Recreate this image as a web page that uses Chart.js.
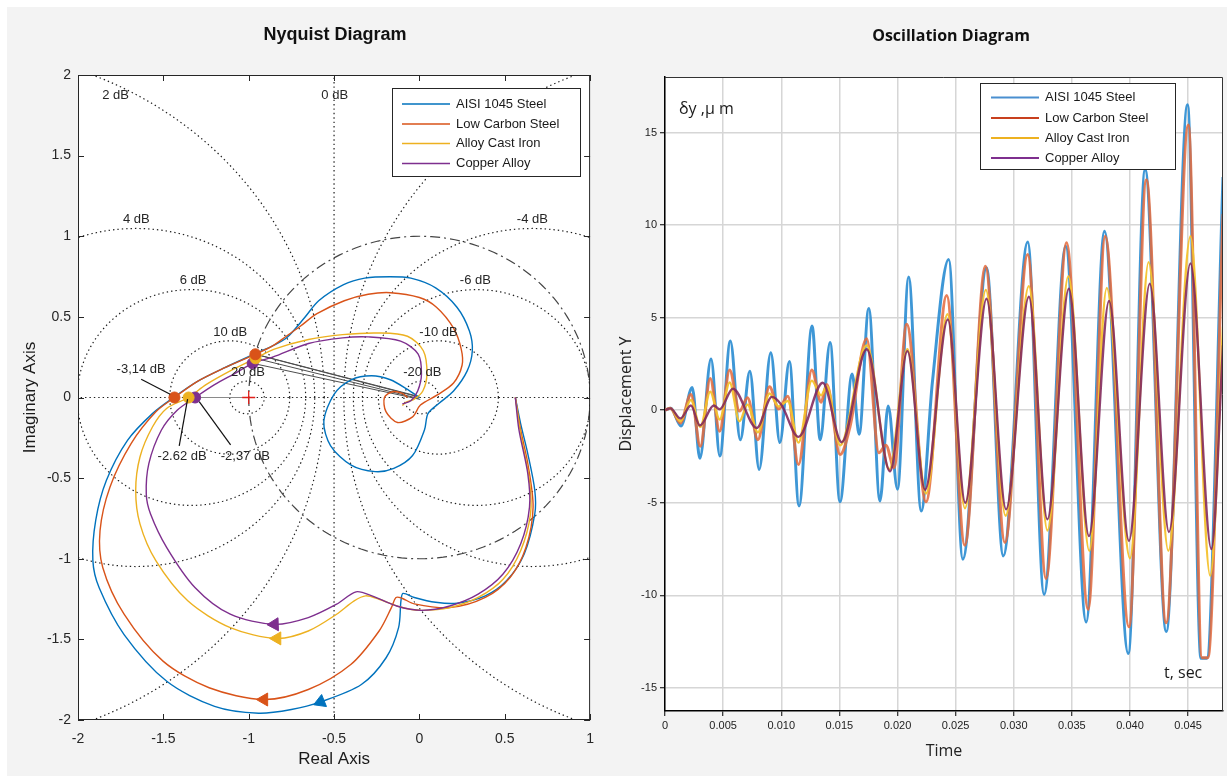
<!DOCTYPE html>
<html>
<head>
<meta charset="utf-8">
<script src="https://cdn.jsdelivr.net/npm/chart.js@4.4.0/dist/chart.umd.min.js"></script>
<style>
  html, body { margin: 0; padding: 0; background: #fff; }
  body { width: 1227px; height: 776px; position: relative; overflow: hidden; }
  #panel { position: absolute; left: 7px; top: 7px; right: 0; bottom: 0; background: #f3f3f3; }
  canvas { position: absolute; top: 0; }
  #nyquist { left: 0; }
  #oscillation { left: 605px; }
</style>
</head>
<body>
<div id="panel"></div>
<canvas id="nyquist" width="605" height="776"></canvas>
<canvas id="oscillation" width="622" height="776"></canvas>
<script>
const MATERIALS = ['AISI 1045 Steel', 'Low Carbon Steel', 'Alloy Cast Iron', 'Copper Alloy'];
const NYQ_COLORS = ['#0072BD', '#D95319', '#EDB120', '#7E2F8E'];
const OSC_COLORS = ['rgba(52,145,212,0.95)', 'rgba(228,106,60,0.85)', 'rgba(244,194,46,0.95)', 'rgba(128,38,92,0.88)'];
const OSC_LEGEND_COLORS = ['#4a8fd0', '#c8401e', '#EDB120', '#7E2F8E'];

// Nyquist curves, [Re, Im]
const nyqSteel = [
  [0.562, 0], [0.593, -0.162], [0.635, -0.349], [0.676, -0.577], [0.676, -0.722], [0.614, -0.97],
  [0.51, -1.137], [0.386, -1.23], [0.22, -1.276], [0.095, -1.27], [-0.03, -1.24], [-0.096, -1.215],
  [-0.108, -1.26], [-0.122, -1.427], [-0.195, -1.614], [-0.34, -1.78], [-0.579, -1.888], [-0.75, -1.935],
  [-0.942, -1.958], [-1.2, -1.915], [-1.48, -1.76], [-1.73, -1.47], [-1.876, -1.18], [-1.913, -1.01],
  [-1.896, -0.76], [-1.834, -0.515], [-1.71, -0.266], [-1.564, -0.1], [-1.44, 0], [-1.3, 0.1],
  [-1.15, 0.18], [-0.965, 0.27], [-0.86, 0.32], [-0.776, 0.372], [-0.672, 0.496], [-0.59, 0.6],
  [-0.444, 0.7], [-0.32, 0.74], [-0.174, 0.749], [-0.05, 0.74], [0.095, 0.68], [0.22, 0.56],
  [0.293, 0.413], [0.31, 0.29], [0.28, 0.165], [0.2, 0.04], [0.11, -0.04], [0.05, -0.1],
  [0.03, -0.2], [-0.04, -0.36], [-0.15, -0.44], [-0.26, -0.46], [-0.4, -0.42], [-0.52, -0.3],
  [-0.56, -0.15], [-0.5, 0.02], [-0.4, 0.11], [-0.28, 0.135], [-0.17, 0.11], [-0.07, 0.05], [0, 0]
];
const nyqLowCarbon = [
  [0.562, 0], [0.593, -0.2], [0.635, -0.41], [0.666, -0.68], [0.624, -0.93], [0.531, -1.116],
  [0.386, -1.24], [0.178, -1.303], [-0.03, -1.28], [-0.102, -1.245], [-0.137, -1.24], [-0.164, -1.303],
  [-0.236, -1.448], [-0.402, -1.656], [-0.651, -1.811], [-0.911, -1.873], [-1.232, -1.8], [-1.502, -1.635],
  [-1.73, -1.344], [-1.855, -1.054], [-1.871, -0.826], [-1.813, -0.556], [-1.689, -0.286], [-1.544, -0.089],
  [-1.435, 0], [-1.3, 0.1], [-1.15, 0.18], [-0.961, 0.268], [-0.86, 0.32], [-0.78, 0.38],
  [-0.7, 0.44], [-0.6, 0.52], [-0.44, 0.6], [-0.3, 0.64], [-0.17, 0.65], [0, 0.62],
  [0.1, 0.56], [0.2, 0.43], [0.245, 0.3], [0.25, 0.2], [0.2, 0.09], [0.105, 0.016],
  [0.006, -0.047], [-0.04, -0.12], [-0.128, -0.155], [-0.196, -0.088], [-0.205, 0], [-0.157, 0.036],
  [-0.1, 0.025], [-0.07, 0]
];
const nyqCastIron = [
  [0.562, 0], [0.593, -0.224], [0.645, -0.515], [0.651, -0.722], [0.593, -0.95], [0.49, -1.127],
  [0.344, -1.24], [0.178, -1.303], [0.012, -1.32], [-0.112, -1.299], [-0.236, -1.251], [-0.315, -1.23],
  [-0.382, -1.261], [-0.485, -1.344], [-0.651, -1.448], [-0.834, -1.494], [-1.108, -1.427], [-1.357, -1.261],
  [-1.544, -1.012], [-1.637, -0.784], [-1.662, -0.577], [-1.637, -0.369], [-1.564, -0.183], [-1.481, -0.068],
  [-1.352, 0], [-1.25, 0.08], [-1.1, 0.17], [-0.96, 0.243], [-0.85, 0.3], [-0.65, 0.36],
  [-0.45, 0.39], [-0.24, 0.4], [-0.07, 0.38], [0.023, 0.29], [0.044, 0.145], [0.02, 0.04],
  [-0.03, -0.01], [-0.08, -0.03], [-0.1, -0.05]
];
const nyqCopper = [
  [0.562, 0], [0.583, -0.2], [0.635, -0.473], [0.645, -0.68], [0.593, -0.909], [0.49, -1.095],
  [0.344, -1.22], [0.178, -1.293], [0.012, -1.32], [-0.133, -1.293], [-0.278, -1.23], [-0.371, -1.205],
  [-0.485, -1.282], [-0.651, -1.365], [-0.849, -1.407], [-1.108, -1.344], [-1.315, -1.178], [-1.481, -0.929],
  [-1.575, -0.722], [-1.6, -0.6], [-1.585, -0.41], [-1.512, -0.203], [-1.419, -0.079], [-1.314, 0],
  [-1.2, 0.08], [-1.08, 0.15], [-0.977, 0.212], [-0.86, 0.25], [-0.65, 0.335], [-0.45, 0.37],
  [-0.3, 0.376], [-0.11, 0.35], [-0.008, 0.27], [0.012, 0.145], [-0.01, 0.04], [-0.05, -0.02], [-0.1, -0.04]
];
const nyqCurves = [nyqSteel, nyqLowCarbon, nyqCastIron, nyqCopper];

// margin markers (steel marker sits under the low carbon one and is not drawn)
const gainCross = [null, [-1.435, 0], [-1.352, 0], [-1.314, 0]];
const phaseCross = [[-0.965, 0.27], [-0.961, 0.268], [-0.96, 0.243], [-0.977, 0.212]];
const tipAnchor = [[-0.01, 0.008], [0, 0.002], [-0.005, -0.006], [0.005, -0.012]];
const arrowPts = [[-0.579, -1.888], [-0.911, -1.873], [-0.834, -1.494], [-0.849, -1.407]];
const arrowAngle = [-112, -90, -90, -92];

const mCircleDb = [-20, -10, -6, -4, -2, 0, 2, 4, 6, 10, 20];
const gridLabels = [
  ['2 dB', -1.78, 1.872], ['0 dB', -0.496, 1.872], ['4 dB', -1.658, 1.102], ['-4 dB', 0.662, 1.102],
  ['6 dB', -1.326, 0.724], ['-6 dB', 0.328, 0.724], ['10 dB', -1.108, 0.403], ['-10 dB', 0.112, 0.403],
  ['20 dB', -1.004, 0.155], ['-20 dB', 0.017, 0.155]
];
const marginLabels = [['-3,14 dB', -1.63, 0.175], ['-2.62 dB', -1.39, -0.363], ['-2,37 dB', -1.02, -0.363]];
const marginLeaders = [
  [[-1.63, 0.113], [-1.46, 0.02]],
  [[-1.407, -0.3], [-1.358, -0.01]],
  [[-1.106, -0.294], [-1.29, -0.026]]
];

const nyqTicksX = [-2, -1.5, -1, -0.5, 0, 0.5, 1];
const nyqTicksY = [-2, -1.5, -1, -0.5, 0, 0.5, 1, 1.5, 2];

// Oscillation, [time ms, displacement um]
const oscSteel = [
  [0, 0], [0.5, 0.1], [1.38, -0.85], [2.34, 1.23], [3.0, -2.6], [3.96, 2.76], [4.72, -2.47], [5.62, 3.74],
  [6.48, -1.6], [7.3, 2.1], [8.1, -3.2], [9.1, 3.1], [9.88, -1.75], [10.7, 2.63], [11.53, -5.17],
  [12.65, 4.55], [13.35, -1.6], [14.2, 3.66], [15.05, -4.95], [16.1, 1.95], [16.7, -1.3], [17.53, 5.5],
  [18.49, -4.9], [19.2, 0.23], [20.0, -4.27], [20.96, 7.2], [22.04, -5.44], [23.0, 1.5], [24.4, 8.14],
  [25.62, -8.05], [27.66, 7.7], [29.1, -7.87], [31.2, 9.08], [32.61, -9.95], [34.47, 8.86], [36.23, -11.44],
  [37.8, 9.67], [39.85, -13.14], [41.3, 12.99], [43.12, -11.96], [44.95, 16.5], [46.1, -13.4],
  [46.6, -13.4], [48, 12.6]
];
const oscLowCarbon = [
  [0, 0], [0.46, 0.1], [1.32, -0.69], [2.23, 0.85], [3.04, -1.95], [3.89, 1.71], [4.7, -1.14], [5.56, 2.17],
  [6.41, -0.05], [7.1, 0.67], [7.99, -1.59], [8.99, 1.26], [9.77, 0.07], [10.57, 0.76], [11.48, -2.94],
  [12.63, 2.17], [13.43, 0.43], [13.92, 1.39], [15.06, -2.4], [15.92, -0.87], [17.35, 3.86], [18.4, -2.3],
  [19.0, -1.9], [19.7, -3.1], [20.79, 4.64], [22.45, -4.95], [24.23, 6.2], [25.79, -7.3], [27.56, 7.78],
  [29.24, -7.15], [31.2, 8.41], [32.78, -9.1], [34.54, 9.04], [36.4, -10.76], [37.87, 9.4], [39.91, -11.7],
  [41.41, 12.45], [43.11, -11.48], [45.02, 15.41], [46.2, -13.37], [46.7, -13.37], [48, 10.6]
];
const oscCastIron = [
  [0, 0], [0.46, 0.1], [1.32, -0.6], [2.23, 0.55], [3.04, -0.9], [3.89, 1.0], [4.7, -0.5], [5.56, 1.5],
  [6.41, -0.6], [7.1, 0.3], [7.99, -1.2], [8.99, 0.9], [9.77, 0.2], [10.57, 0.5], [11.48, -1.75],
  [12.63, 1.6], [13.43, 0.8], [13.92, 1.3], [15.06, -1.9], [17.35, 3.5], [19.3, -3.2], [20.85, 3.3],
  [22.45, -4.5], [24.3, 5.18], [25.8, -5.3], [27.6, 6.5], [29.3, -5.7], [31.3, 6.7], [32.9, -6.5],
  [34.7, 7.24], [36.5, -7.6], [38.0, 6.6], [40.0, -8.0], [41.6, 8.0], [43.3, -7.6], [45.2, 9.4],
  [46.9, -8.95], [48, 4.5]
];
const oscCopper = [
  [0, 0], [0.46, 0.1], [1.32, -0.45], [2.23, 0.25], [3.0, -0.83], [4.2, 0.25], [4.7, 0.05], [5.84, 1.16],
  [7.9, -0.96], [9.19, 0.72], [10.0, 0.3], [11.48, -1.44], [13.57, 1.48], [15.2, -1.73], [17.35, 3.29],
  [19.36, -3.3], [20.85, 3.19], [22.37, -4.3], [24.33, 4.9], [25.83, -5.0], [27.66, 6.02], [29.34, -5.35],
  [31.3, 6.13], [32.89, -5.9], [34.74, 6.56], [36.47, -6.8], [38.2, 5.9], [39.91, -7.06], [41.7, 6.83],
  [43.35, -6.58], [45.2, 7.93], [47.0, -7.5], [48, 3.5]
];
const oscSeries = [oscSteel, oscLowCarbon, oscCastIron, oscCopper];

const timeTicks = [0, 0.005, 0.010, 0.015, 0.020, 0.025, 0.030, 0.035, 0.040, 0.045];
const timeTickLabels = ['0', '0.005', '0.010', '0.015', '0.020', '0.025', '0.030', '0.035', '0.040', '0.045'];
const dispTicks = [-15, -10, -5, 0, 5, 10, 15];

const SANS = "'Liberation Sans', Arial, sans-serif";
const OPEN = "'Open Sans', 'Liberation Sans', sans-serif";
Chart.defaults.font.family = SANS;
Chart.defaults.color = '#262626';

function toXY(points) {
    return points.filter(p => p).map(([x, y]) => ({ x, y }));
}

function pathDataset(points, color, width, extra) {
    return Object.assign({
        data: toXY(points), showLine: true, borderColor: color, backgroundColor: color,
        borderWidth: width, pointRadius: 0, pointHoverRadius: 0, tension: 0, order: 10
    }, extra || {});
}

// closed-loop constant magnitude contour (M-circle) for a dB level
function mCircle(db) {
    if (db === 0) return [[-0.5, -2.5], [-0.5, 2.5]];
    const m2 = Math.pow(10, db / 10);
    const c = -m2 / (m2 - 1), r = Math.abs(Math.sqrt(m2) / (m2 - 1));
    const pts = [];
    for (let a = 0; a <= 360; a += 2) {
        pts.push([c + r * Math.cos(a * Math.PI / 180), r * Math.sin(a * Math.PI / 180)]);
    }
    return pts;
}

function unitCircle() {
    const pts = [];
    for (let a = 0; a <= 360; a += 2) pts.push([Math.cos(a * Math.PI / 180), Math.sin(a * Math.PI / 180)]);
    return pts;
}

function drawLegend(ctx, box, colors, lineWidth) {
    ctx.fillStyle = '#fff';
    ctx.fillRect(box.left, box.top, box.width, box.height);
    ctx.strokeStyle = '#262626';
    ctx.lineWidth = 1;
    ctx.strokeRect(box.left + 0.5, box.top + 0.5, box.width, box.height);
    ctx.font = '13px ' + SANS;
    ctx.textAlign = 'left';
    ctx.textBaseline = 'middle';
    MATERIALS.forEach((name, i) => {
        const y = box.rows[i];
        ctx.strokeStyle = colors[i];
        ctx.lineWidth = lineWidth;
        ctx.beginPath();
        ctx.moveTo(box.lineFrom, y);
        ctx.lineTo(box.lineTo, y);
        ctx.stroke();
        ctx.fillStyle = '#1a1a1a';
        ctx.fillText(name, box.textX, y);
    });
}

const nyquistDecor = {
    id: 'nyquistDecor',
    beforeDraw(chart) {
        const { ctx, chartArea: a } = chart;
        ctx.save();
        ctx.fillStyle = '#fff';
        ctx.fillRect(a.left, a.top, a.right - a.left, a.bottom - a.top);
        ctx.restore();
    },
    afterDatasetsDraw(chart) {
        const { ctx, chartArea: a, scales: { x, y } } = chart;
        ctx.save();
        ctx.strokeStyle = '#262626';
        ctx.lineWidth = 1;
        ctx.strokeRect(a.left + 0.5, a.top + 0.5, a.right - a.left - 1, a.bottom - a.top - 1);
        ctx.beginPath();
        nyqTicksX.forEach(v => {
            const p = Math.round(x.getPixelForValue(v)) + 0.5;
            ctx.moveTo(p, a.top); ctx.lineTo(p, a.top + 6);
            ctx.moveTo(p, a.bottom); ctx.lineTo(p, a.bottom - 6);
        });
        nyqTicksY.forEach(v => {
            const p = Math.round(y.getPixelForValue(v)) + 0.5;
            ctx.moveTo(a.left, p); ctx.lineTo(a.left + 6, p);
            ctx.moveTo(a.right, p); ctx.lineTo(a.right - 6, p);
        });
        ctx.stroke();

        ctx.fillStyle = '#262626';
        ctx.textAlign = 'center';
        ctx.textBaseline = 'middle';
        ctx.font = '13px ' + SANS;
        gridLabels.concat(marginLabels).forEach(([t, vx, vy]) => {
            ctx.fillText(t, x.getPixelForValue(vx), y.getPixelForValue(vy));
        });

        drawLegend(ctx, { left: 392, top: 88, width: 188, height: 88, rows: [104, 124, 143.5, 163.5],
            lineFrom: 402, lineTo: 450, textX: 456 }, NYQ_COLORS, 1.5);
        ctx.restore();
    },
    afterDraw(chart) {
        const { ctx } = chart;
        ctx.save();
        ctx.font = 'bold 18px ' + SANS;
        ctx.fillStyle = '#111';
        ctx.textAlign = 'center';
        ctx.textBaseline = 'middle';
        ctx.fillText('Nyquist Diagram', 335, 35);
        ctx.restore();
    }
};

const oscDecor = {
    id: 'oscDecor',
    beforeDraw(chart) {
        const { ctx, chartArea: a } = chart;
        ctx.save();
        ctx.fillStyle = '#fff';
        ctx.fillRect(a.left, a.top, a.right - a.left, a.bottom - a.top);
        ctx.restore();
    },
    afterDatasetsDraw(chart) {
        const { ctx, chartArea: a } = chart;
        ctx.save();
        ctx.strokeStyle = '#333';
        ctx.lineWidth = 1;
        ctx.beginPath();
        ctx.moveTo(a.left, a.top + 0.5); ctx.lineTo(a.right - 0.5, a.top + 0.5); ctx.lineTo(a.right - 0.5, a.bottom);
        ctx.stroke();

        ctx.fillStyle = '#1a1a1a';
        ctx.textBaseline = 'middle';
        ctx.textAlign = 'left';
        ctx.font = '16px ' + OPEN;
        ctx.fillText('\u03B4y ,\u03BC m', 74, 109);
        ctx.fillText('t, sec', 559, 673);

        drawLegend(ctx, { left: 375, top: 83, width: 195, height: 86, rows: [97.5, 118, 138, 158],
            lineFrom: 386, lineTo: 434, textX: 440 }, OSC_LEGEND_COLORS, 2);
        ctx.restore();
    },
    afterDraw(chart) {
        const { ctx } = chart;
        ctx.save();
        ctx.font = 'bold 16px ' + OPEN;
        ctx.fillStyle = '#111';
        ctx.textAlign = 'center';
        ctx.textBaseline = 'middle';
        ctx.fillText('Oscillation Diagram', 346, 36);
        ctx.restore();
    }
};

// ---- Nyquist chart ----
const nyqDatasets = [];
mCircleDb.forEach(db => {
    nyqDatasets.push(pathDataset(mCircle(db), '#1e1e1e', 1.2, { borderDash: [1.4, 3], order: 20 }));
});
nyqDatasets.push(pathDataset([[-2.5, 0], [1.5, 0]], '#1e1e1e', 1.2, { borderDash: [1.4, 3], order: 20 }));
nyqDatasets.push(pathDataset(unitCircle(), '#444', 1.2, { borderDash: [10, 4, 2, 4], order: 19 }));
phaseCross.forEach((p, i) => {
    nyqDatasets.push(pathDataset([p, tipAnchor[i]], '#4d4d4d', 1, { order: 15 }));
});
nyqDatasets.push(pathDataset([gainCross[3], [-1, 0]], '#8a8a8a', 1, { order: 15 }));
nyqCurves.forEach((c, i) => {
    nyqDatasets.push(pathDataset(c, NYQ_COLORS[i], 1.4, { tension: 0.3, order: 5 - i }));
});
marginLeaders.forEach(seg => {
    nyqDatasets.push(pathDataset(seg, '#111', 1.2, { order: 0 }));
});
NYQ_COLORS.forEach((col, i) => {
    if (i > 0) {
        nyqDatasets.push({
            data: toXY([gainCross[i], phaseCross[i]]), pointRadius: 5.5, pointBackgroundColor: col,
            pointBorderColor: col, pointHoverRadius: 5.5, showLine: false, order: 0
        });
    }
    nyqDatasets.push({
        data: toXY([arrowPts[i]]), pointStyle: 'triangle', pointRadius: 7.5, pointRotation: arrowAngle[i],
        pointBackgroundColor: col, pointBorderColor: col, pointHoverRadius: 7.5, showLine: false, order: 0
    });
});
nyqDatasets.push({
    data: toXY([[-1, 0]]), pointStyle: 'cross', pointRadius: 6.5, pointBorderColor: '#e0201b',
    pointBorderWidth: 1.3, showLine: false, order: 0
});

new Chart(document.getElementById('nyquist'), {
    type: 'scatter',
    data: { datasets: nyqDatasets },
    options: {
        responsive: false, animation: false, devicePixelRatio: 1,
        layout: { padding: { left: 0, top: 75, right: 11, bottom: 0 } },
        plugins: { legend: { display: false }, tooltip: { enabled: false } },
        events: [],
        scales: {
            x: {
                type: 'linear', min: -2, max: 1,
                afterBuildTicks: s => { s.ticks = nyqTicksX.map(v => ({ value: v })); },
                afterFit: s => { s.height = 56; },
                ticks: { font: { size: 14 }, color: '#262626', padding: 11, maxRotation: 0, autoSkip: false,
                    callback: v => String(v) },
                grid: { display: false, drawTicks: false },
                border: { display: false },
                title: { display: true, text: 'Real Axis', font: { size: 17 }, color: '#1a1a1a',
                    padding: { top: 0, bottom: 6 } }
            },
            y: {
                type: 'linear', min: -2, max: 2,
                afterBuildTicks: s => { s.ticks = nyqTicksY.map(v => ({ value: v })); },
                afterFit: s => { s.width = 78; },
                ticks: { font: { size: 14 }, color: '#262626', padding: 7, autoSkip: false,
                    callback: v => String(v) },
                grid: { display: false, drawTicks: false },
                border: { display: false },
                title: { display: true, text: 'Imaginary Axis', font: { size: 17 }, color: '#1a1a1a',
                    padding: { top: 20, bottom: 0 } }
            }
        }
    },
    plugins: [nyquistDecor]
});

// ---- Oscillation chart ----
const oscDatasets = oscSeries.map((s, i) => ({
    label: MATERIALS[i],
    data: s.map(([t, v]) => ({ x: t / 1000, y: v })),
    borderColor: OSC_COLORS[i],
    borderWidth: i < 2 ? 3 : 2.4,
    pointRadius: 0,
    cubicInterpolationMode: 'monotone',
    order: 4 - i
}));

new Chart(document.getElementById('oscillation'), {
    type: 'line',
    data: { datasets: oscDatasets },
    options: {
        responsive: false, animation: false, devicePixelRatio: 1,
        layout: { padding: { left: 0, top: 77, right: 4, bottom: 0 } },
        plugins: { legend: { display: false }, tooltip: { enabled: false } },
        events: [],
        scales: {
            x: {
                type: 'linear', min: 0, max: 0.048,
                afterBuildTicks: s => { s.ticks = timeTicks.map(v => ({ value: v })); },
                afterFit: s => { s.height = 65; },
                ticks: { font: { size: 11 }, color: '#222', padding: 3, maxRotation: 0, autoSkip: false,
                    callback: (v, i) => timeTickLabels[i] },
                grid: { color: '#d6d6d6', lineWidth: 1.5, tickColor: '#000', tickLength: 5, tickWidth: 1 },
                border: { color: '#000', width: 1.5 },
                title: { display: true, text: 'Time', font: { family: OPEN, size: 16 }, color: '#222',
                    padding: { top: 0, bottom: 15 } }
            },
            y: {
                type: 'linear', min: -16.25, max: 18,
                afterBuildTicks: s => { s.ticks = dispTicks.map(v => ({ value: v })); },
                afterFit: s => { s.width = 60; },
                ticks: { font: { size: 11 }, color: '#222', padding: 3, autoSkip: false },
                grid: { color: '#d6d6d6', lineWidth: 1.5, tickColor: '#000', tickLength: 5, tickWidth: 1 },
                border: { color: '#000', width: 1.5 },
                title: { display: true, text: 'Displacement Y', font: { family: OPEN, size: 16 }, color: '#222',
                    padding: { top: 12, bottom: 0 } }
            }
        }
    },
    plugins: [oscDecor]
});
</script>
</body>
</html>
